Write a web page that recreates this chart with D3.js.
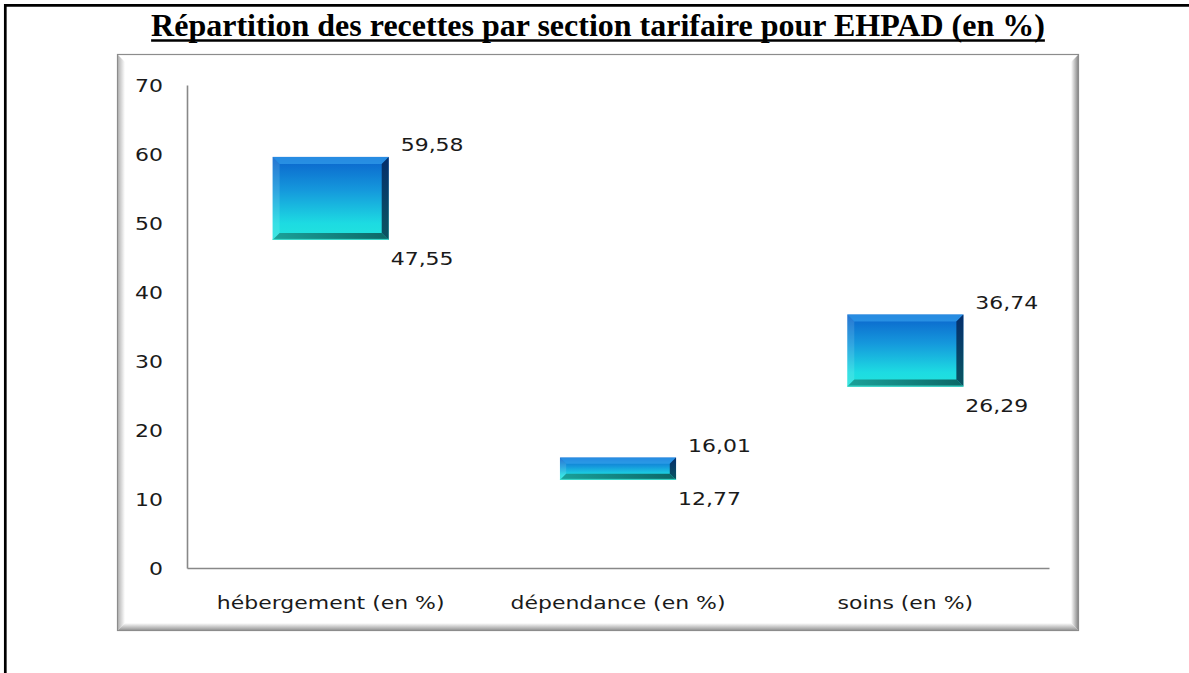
<!DOCTYPE html>
<html>
<head>
<meta charset="utf-8">
<script src="https://cdn.jsdelivr.net/npm/d3@7"></script>
<style>
  html, body { margin: 0; padding: 0; background: #fff; }
  svg { display: block; }
</style>
</head>
<body>
<svg id="chart" width="1189" height="673"></svg>
<script>
// ---- data ----
const title = "Répartition des recettes par section tarifaire pour EHPAD (en %)";
const categories = ["hébergement (en %)", "dépendance (en %)", "soins (en %)"];
const highValues = [59.58, 16.01, 36.74];
const lowValues = [47.55, 12.77, 26.29];
const highLabels = ["59,58", "16,01", "36,74"];
const lowLabels = ["47,55", "12,77", "26,29"];
const yTicks = [0, 10, 20, 30, 40, 50, 60, 70];

const svg = d3.select("#chart");
const W = 1189, H = 673;
svg.append("rect").attr("width", W).attr("height", H).attr("fill", "#fff");

const defs = svg.append("defs");
function lin(id, x1, y1, x2, y2, stops) {
  const g = defs.append("linearGradient").attr("id", id)
    .attr("x1", x1).attr("y1", y1).attr("x2", x2).attr("y2", y2);
  stops.forEach(s => g.append("stop").attr("offset", s[0]).attr("stop-color", s[1]));
}
lin("face", 0, 0, 0, 1, [["0%", "#0a62cc"], ["40%", "#1598dc"], ["80%", "#1ddbe2"], ["100%", "#22e4dc"]]);
lin("bevRight", 0, 0, 0, 1, [["0%", "#04255a"], ["100%", "#063a4a"]]);
lin("bevBottom", 0, 0, 1, 0, [["0%", "#1a9a92"], ["100%", "#0a5a5a"]]);
lin("frLeft", 0, 0, 1, 0, [["0%", "#a8a8a8"], ["100%", "#ffffff"]]);
lin("frBottom", 0, 1, 0, 0, [["0%", "#8a8a8a"], ["100%", "#ffffff"]]);
lin("frRight", 1, 0, 0, 0, [["0%", "#7a7a7a"], ["100%", "#ffffff"]]);

// ---- page border ----
svg.append("line").attr("x1", 5.3).attr("x2", 5.3).attr("y1", 4).attr("y2", H)
  .attr("stroke", "#000").attr("stroke-width", 2.7);
svg.append("line").attr("x1", 4).attr("x2", W).attr("y1", 5.3).attr("y2", 5.3)
  .attr("stroke", "#000").attr("stroke-width", 2.7);

// ---- title ----
const t = svg.append("text").attr("x", 598).attr("y", 36)
  .attr("text-anchor", "middle")
  .attr("font-family", "'Liberation Serif', 'Times New Roman', serif")
  .attr("font-weight", "bold").attr("font-size", 32)
  .attr("fill", "#000").text(title);
const tb = t.node().getBBox();
svg.append("line").attr("x1", tb.x).attr("x2", tb.x + tb.width)
  .attr("y1", 40.5).attr("y2", 40.5).attr("stroke", "#000").attr("stroke-width", 2.6);

// ---- chart frame ----
const fx0 = 117, fy0 = 54, fx1 = 1079, fy1 = 631, fb = 8;
svg.append("rect").attr("x", fx0).attr("y", fy0).attr("width", fx1 - fx0).attr("height", fy1 - fy0)
  .attr("fill", "#fff");
svg.append("polygon").attr("points", [[fx0, fy0], [fx0 + fb, fy0 + fb], [fx0 + fb, fy1 - fb], [fx0, fy1]].join(" "))
  .attr("fill", "url(#frLeft)");
svg.append("polygon").attr("points", [[fx0, fy1], [fx0 + fb, fy1 - fb], [fx1 - fb, fy1 - fb], [fx1, fy1]].join(" "))
  .attr("fill", "url(#frBottom)");
svg.append("polygon").attr("points", [[fx1, fy0], [fx1, fy1], [fx1 - fb, fy1 - fb], [fx1 - fb, fy0 + fb]].join(" "))
  .attr("fill", "url(#frRight)");
svg.append("rect").attr("x", fx0 + 0.5).attr("y", fy0 + 0.5).attr("width", fx1 - fx0 - 1).attr("height", fy1 - fy0 - 1)
  .attr("fill", "none").attr("stroke", "#8c8c8c").attr("stroke-width", 1.2);

// ---- scales ----
const x = d3.scaleBand().domain(categories).range([187, 1049]).paddingInner(0.596).paddingOuter(0.298);
const y = d3.scaleLinear().domain([0, 70]).range([568, 85]);

const FONT = "'DejaVu Sans', Verdana, sans-serif";
const SX = 1.22;
function wideText(g, px, py, str, anchor) {
  return g.append("text")
    .attr("transform", `translate(${px},${py}) scale(${SX},1)`)
    .attr("text-anchor", anchor)
    .attr("font-family", FONT).attr("font-size", 18)
    .attr("fill", "#1a1a1a").text(str);
}

// ---- axes ----
const yAxis = svg.append("g").attr("transform", "translate(187,0)")
  .call(d3.axisLeft(y).tickValues(yTicks).tickSize(0).tickPadding(24).tickFormat(d3.format("d")));
yAxis.select(".domain").attr("stroke", "#888").attr("stroke-width", 1.6);
yAxis.selectAll(".tick text").remove();
yAxis.selectAll(".tick").each(function (d) {
  wideText(d3.select(this), -24, 6.5, String(d), "end");
});

const xAxis = svg.append("g").attr("transform", "translate(0,568)")
  .call(d3.axisBottom(x).tickSize(0).tickPadding(0));
xAxis.select(".domain").attr("stroke", "#888").attr("stroke-width", 1.6);
xAxis.selectAll(".tick text").remove();
xAxis.selectAll(".tick").each(function (d) {
  wideText(d3.select(this), 0, 41, d, "middle");
});

// ---- bars ----
const rows = categories.map((c, i) => ({ c, hi: highValues[i], lo: lowValues[i], hl: highLabels[i], ll: lowLabels[i] }));
const bars = svg.append("g").selectAll("g").data(rows).join("g");
bars.each(function (d) {
  const g = d3.select(this);
  const x0 = x(d.c), x1 = x(d.c) + x.bandwidth();
  const y0 = y(d.hi), y1 = y(d.lo);
  const b = Math.min(7, (y1 - y0) * 0.28);
  g.append("rect").attr("x", x0).attr("y", y0).attr("width", x1 - x0).attr("height", y1 - y0)
    .attr("fill", "url(#face)");
  g.append("polygon").attr("points", [[x0, y0], [x1, y0], [x1 - b, y0 + b], [x0 + b, y0 + b]].join(" "))
    .attr("fill", "#3aa6f0").attr("opacity", 0.6);
  g.append("polygon").attr("points", [[x0, y0], [x0 + b, y0 + b], [x0 + b, y1 - b], [x0, y1]].join(" "))
    .attr("fill", "#fff").attr("opacity", 0.12);
  g.append("polygon").attr("points", [[x1, y0], [x1, y1], [x1 - b, y1 - b], [x1 - b, y0 + b]].join(" "))
    .attr("fill", "url(#bevRight)").attr("opacity", 0.85);
  g.append("polygon").attr("points", [[x0, y1], [x1, y1], [x1 - b, y1 - b], [x0 + b, y1 - b]].join(" "))
    .attr("fill", "url(#bevBottom)").attr("opacity", 0.9);
  g.append("line").attr("x1", x0).attr("x2", x1).attr("y1", y1 - 0.5).attr("y2", y1 - 0.5)
    .attr("stroke", "#3fe0d0").attr("stroke-width", 1);
  // value labels
  wideText(g, x1 + 12, y0 - 12 + 6.5, d.hl, "start");
  wideText(g, x1 + 2, y1 + 19 + 6.5, d.ll, "start");
});
</script>
</body>
</html>
